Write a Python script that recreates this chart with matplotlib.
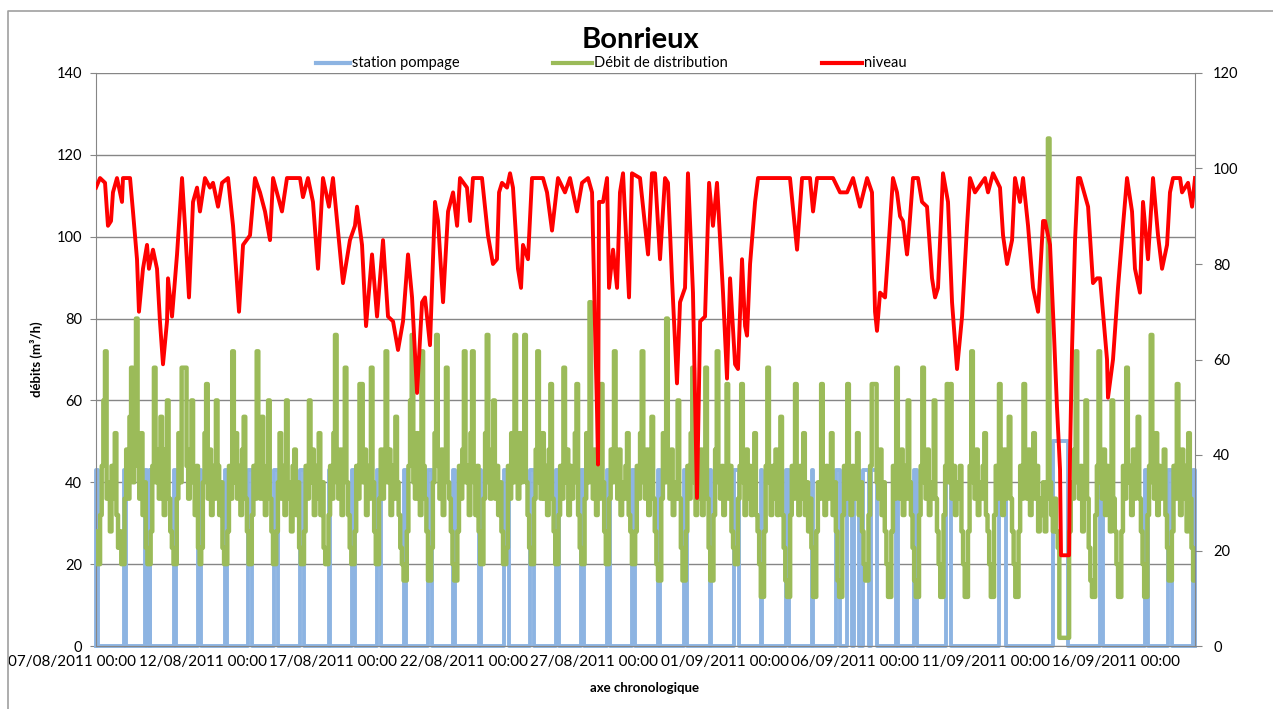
import matplotlib
matplotlib.use("Agg")
import matplotlib.pyplot as plt
import matplotlib.transforms as mtransforms
from matplotlib.lines import Line2D

plt.rcParams['font.family'] = ['Lato', 'DejaVu Sans']

# axe des temps : heures depuis le 07/08/2011 00:00
heures_axe = [0, 120, 240, 360, 480, 600, 720, 840, 960]
dates_axe = ["07/08/2011 00:00", "12/08/2011 00:00", "17/08/2011 00:00",
             "22/08/2011 00:00", "27/08/2011 00:00", "01/09/2011 00:00",
             "06/09/2011 00:00", "11/09/2011 00:00", "16/09/2011 00:00"]
debut_h = 22
fin_h = 1032.5

# niveau (axe droit)
niveau_h = [22, 25.7, 30.3, 33, 35.8, 37.6, 41.3, 45.9, 46.8, 53.3, 56, 59.7, 61.5, 65.2,
            68.9, 70.7, 74.4, 78.1, 80.8, 83.6, 87.3, 88.2, 91.9, 96.5, 101.1, 103.8,
            107.5, 111.2, 114.9, 117.6, 122.2, 126.8, 129.6, 134.2, 137.9, 143.4, 148,
            153.5, 157.2, 163.6, 168.2, 172.8, 177.4, 182, 184.8, 193, 197.6, 209.6,
            212.3, 216.9, 221.5, 226.1, 230.7, 236.2, 239.9, 249.1, 255.5, 260.1, 262,
            266.6, 270.3, 275.8, 280.4, 285.9, 290.5, 295.1, 299.7, 304.3, 308.9, 312.6,
            317.2, 321.8, 324.5, 329.1, 333.7, 336.5, 341.1, 345.7, 350.3, 354, 356.7,
            363.1, 365.9, 368.6, 376.9, 382.4,
            387, 390.7, 392.6, 395.3, 399.9, 402.7, 405.4, 410, 412.8, 414.6, 419.2,
            422.9, 433, 436.7, 441.3, 446.8, 453.2, 457.8, 464.3, 468.9, 474.4, 478.1,
            480.8, 482.7, 483.6, 484.5, 488.2, 491.9, 493.7, 497.4, 501.1, 503.8, 506.6,
            512.1, 514.8, 522.2, 529.6, 533.2, 536, 540.6, 545.2, 547.9, 551.6, 556.2,
            559, 563.6, 566.3, 570.9, 574.6, 577.5, 582, 585.7, 589.3, 593, 598.5, 602.2,
            605, 609.6, 612.3, 616, 618.8, 620.6, 623.4, 628, 630.7, 639, 644.5, 650.9,
            660.1, 666.6, 671.2, 678.5, 681.3, 685, 699.7, 706.1, 712.6, 718.1, 724.5,
            731, 735.5, 738.3, 740.1, 742.9, 747.5, 750.2, 754.8, 758.5, 761.3, 764,
            767.7, 768.6, 773.2, 777.8, 781.5, 786.1, 790.7, 793.5, 796.2, 800.8, 805.4,
            809.1, 813.7, 818.3, 822.9, 825.6, 830.2, 839.4, 842.2, 846.8, 853.2, 856,
            859.7, 864.3, 867, 871.6, 874.4, 879, 883.6, 888.2, 892.8, 894.6, 899.2,
            902.9, 905.6, 908.4, 909.3, 916.7, 917.6, 919.4, 922.2, 924.9, 926.8, 934.2,
            938.7, 942.4, 945.2, 951.6, 952.5, 957.1, 961.7, 966.3, 970, 974.6, 977.3,
            981.9, 984.7, 989.3, 993.9, 998.5, 1002.2, 1006.8, 1009.5, 1012.3, 1018.8,
            1020.6, 1026.1, 1029.8, 1032.5]
niveau = [96, 98, 97, 88, 89, 95, 98, 93, 98, 98, 91, 81, 70, 79,
          84, 79, 83, 79, 68, 59, 68, 77, 69, 82, 98, 88,
          73, 93, 96, 91, 98, 96, 97, 92, 97, 98, 88,
          70, 84, 86, 98, 95, 91, 85, 98, 91, 98, 98,
          94, 98, 93, 79, 98, 92, 98, 76, 85, 88, 92,
          84, 67, 82, 69, 85, 69, 68, 62, 68, 82, 73,
          53, 72, 73, 63, 93, 89, 72, 91, 95, 88, 98,
          96, 89, 98, 98, 86,
          80, 81, 95, 97, 96, 99, 96, 79, 75, 84, 81,
          98, 98, 95, 87, 98, 95, 98, 91, 97, 98, 95,
          67, 49, 38, 93, 93, 98, 75, 83, 75, 95, 99,
          73, 99, 98, 82, 99, 99, 81, 98, 97, 77, 55,
          72, 75, 99, 74, 31, 68, 69, 97, 88, 97, 74, 56,
          77, 59, 58, 81, 67, 65, 80, 93, 98, 98, 98, 98,
          98, 83, 98, 98, 91, 98, 98, 95, 95, 98, 92,
          98, 95, 70, 66, 74, 73, 82, 98, 95, 90,
          89, 82, 84, 98, 98, 93, 92, 77, 73, 75, 99, 93,
          72, 58, 69, 88, 98, 95, 98, 95, 99, 96,
          86, 80, 85, 98, 93, 98, 88, 75, 70, 89, 89, 84,
          65, 50, 37, 19, 19, 40, 62, 85, 98, 98, 92,
          76, 77, 77, 60, 52, 60, 75, 88, 98, 91, 79,
          74, 93, 81, 98, 86, 79, 84, 95, 98, 98,
          95, 97, 92, 98]

# débit de distribution (axe gauche), un relevé toutes les 1,5 h à partir de 22 h
pas_debit = 1.5
debit_distribution = [
    28, 20, 20, 32, 44, 60, 72, 36, 40, 28, 44, 36, 52, 32, 24, 28,
    20, 20, 36, 48, 36, 56, 68, 40, 60, 80, 44, 36, 52, 32, 40, 24,
    20, 20, 28, 44, 68, 40, 48, 36, 56, 44, 32, 48, 60, 36, 28, 24,
    20, 20, 36, 52, 40, 68, 68, 68, 44, 36, 48, 60, 40, 32, 44, 24,
    20, 24, 40, 52, 64, 36, 48, 32, 44, 36, 60, 44, 32, 40, 24, 20,
    20, 28, 44, 36, 72, 40, 52, 36, 44, 32, 48, 56, 36, 28, 20, 20,
    32, 44, 36, 72, 48, 36, 56, 40, 32, 44, 60, 36, 28, 20, 20, 28,
    40, 52, 36, 44, 32, 60, 40, 36, 28, 44, 48, 32, 40, 24, 20, 20,
    28, 44, 36, 60, 40, 48, 32, 44, 36, 52, 32, 40, 24, 20, 20, 32,
    44, 36, 52, 76, 40, 36, 48, 32, 44, 68, 40, 32, 24, 20, 20, 28,
    44, 36, 64, 64, 40, 48, 32, 44, 36, 68, 40, 28, 20, 20, 36, 48,
    36, 44, 72, 40, 48, 32, 44, 36, 56, 40, 32, 24, 20, 16, 16, 28,
    44, 60, 76, 40, 36, 52, 40, 32, 72, 44, 36, 28, 16, 16, 24, 40,
    52, 76, 44, 36, 48, 32, 44, 68, 40, 36, 28, 20, 16, 16, 28, 44,
    36, 48, 72, 40, 44, 32, 52, 72, 40, 32, 44, 28, 20, 20, 36, 52,
    76, 40, 36, 48, 60, 36, 44, 32, 40, 28, 20, 20, 24, 44, 36, 52,
    40, 76, 44, 36, 52, 40, 44, 76, 40, 32, 24, 20, 20, 36, 48, 72,
    40, 36, 52, 36, 44, 32, 48, 64, 36, 28, 20, 20, 32, 44, 36, 68,
    40, 48, 32, 44, 36, 40, 52, 64, 32, 24, 20, 20, 36, 52, 40, 84,
    44, 36, 48, 32, 44, 36, 64, 40, 28, 20, 20, 36, 48, 40, 72, 44,
    36, 48, 32, 40, 36, 44, 52, 32, 28, 20, 20, 28, 44, 36, 52, 72,
    40, 36, 48, 32, 44, 56, 36, 28, 20, 16, 16, 36, 52, 40, 80, 44,
    36, 48, 32, 40, 36, 60, 36, 24, 16, 16, 28, 44, 36, 52, 68, 40,
    32, 44, 36, 48, 32, 40, 68, 36, 24, 16, 16, 32, 48, 72, 40, 36,
    44, 32, 40, 64, 36, 44, 28, 24, 20, 20, 36, 44, 64, 40, 32, 48,
    36, 44, 32, 40, 52, 32, 28, 20, 12, 12, 28, 44, 68, 40, 32, 44,
    36, 48, 32, 40, 56, 32, 24, 16, 12, 12, 32, 44, 36, 64, 40, 32,
    44, 36, 52, 32, 40, 28, 36, 24, 12, 12, 28, 40, 36, 64, 40, 32,
    44, 36, 40, 52, 32, 40, 28, 16, 12, 12, 32, 44, 36, 64, 40, 32,
    44, 36, 40, 52, 32, 40, 28, 20, 16, 16, 32, 44, 64, 64, 64, 40,
    36, 48, 32, 40, 28, 20, 12, 12, 28, 44, 36, 68, 40, 36, 48, 32,
    44, 36, 60, 40, 32, 24, 16, 12, 12, 32, 44, 68, 40, 36, 48, 32,
    40, 36, 60, 36, 28, 20, 12, 12, 32, 44, 64, 40, 64, 36, 44, 32,
    40, 36, 44, 28, 20, 12, 12, 28, 44, 72, 40, 36, 48, 32, 40, 36,
    44, 52, 32, 28, 20, 12, 12, 32, 44, 36, 64, 40, 32, 48, 36, 44,
    56, 36, 28, 20, 12, 12, 28, 44, 36, 64, 40, 36, 48, 32, 40, 52,
    36, 44, 28, 36, 32, 40, 28, 36, 124, 40, 32, 28, 36, 28, 24, 2,
    2, 2, 2, 2, 2, 28, 40, 36, 48, 72, 40, 36, 44, 28, 40, 60,
    36, 24, 16, 12, 12, 32, 44, 72, 40, 36, 48, 32, 44, 36, 28, 60,
    36, 28, 20, 12, 12, 28, 44, 36, 68, 40, 44, 32, 48, 36, 40, 56,
    36, 28, 20, 12, 12, 32, 44, 76, 40, 36, 52, 32, 44, 36, 40, 48,
    32, 24, 16, 16, 28, 44, 36, 64, 40, 32, 48, 36, 44, 28, 52, 36,
    24, 16, 16]

# station de pompage : périodes de marche (heures) et débit
pompe_debut = [22, 47.7, 67.5, 71.5, 93.6, 116.2, 140.2, 162.2, 186.1, 210, 235.8,
               257.8, 280, 304.8, 327.7, 350.7, 374.6, 396.7, 420.6, 444.5, 467.5,
               491.4, 514.4, 539.2, 562.2, 586.1, 609, 633, 656, 679.9, 702.5, 712.6,
               719.4, 727.3, 734.6, 758, 773.7, 804, 852.7, 902, 944.7, 986.1, 1008.1,
               1030.7]
pompe_fin = [23.5, 49.7, 68.5, 72, 95.6, 119, 142, 165, 188.9, 212.8, 237.6,
             260.6, 283.6, 306.6, 330.5, 352.5, 376.4, 401.3, 424.4, 447.3, 471.1,
             494.2, 518, 541, 565, 587.9, 612.8, 634, 659.6, 681.7, 706.1, 717.2,
             724, 732.8, 740.1, 759, 776.5, 808.6, 858.3, 915.8, 948.3, 989.7, 1010.9,
             1032.5]
pompe_debit = [43] * 39 + [50] + [43] * 4

# construction des séries
t_debit = [debut_h + pas_debit * i for i in range(len(debit_distribution))]
t_pompe, q_pompe = [], []
for a, b, q in zip(pompe_debut, pompe_fin, pompe_debit):
    t_pompe += [a, a, b, b]
    q_pompe += [0, q, q, 0]

W, H = 1273, 709
fig = plt.figure(figsize=(W / 100, H / 100), dpi=100)
ax = fig.add_axes([96 / W, 1 - 646 / H, (1195 - 96) / W, (646 - 73) / H])
ax2 = ax.twinx()

gris = '#868686'
bleu = '#8DB4E2'
vert = '#9BBB59'
rouge = '#FF0000'

ax.plot(t_pompe, q_pompe, color=bleu, lw=2.8, clip_on=False, zorder=2)
ax.plot(t_debit, debit_distribution, color=vert, lw=3.2, drawstyle='steps-mid', zorder=3)
ax2.plot(niveau_h, niveau, color=rouge, lw=2.8, zorder=3)

ax.set_xlim(debut_h, fin_h)
ax.set_ylim(0, 140)
ax2.set_ylim(0, 120)
ax.set_yticks(range(0, 141, 20))
ax2.set_yticks(range(0, 121, 20))
ax.set_xticks([])

ax.yaxis.grid(True, color=gris, lw=1.0)
ax.set_axisbelow(True)
for s in ['top', 'right']:
    ax.spines[s].set_visible(False)
for s in ['top', 'left', 'bottom']:
    ax2.spines[s].set_visible(False)
ax.spines['left'].set_color(gris)
ax.spines['bottom'].set_color(gris)
ax2.spines['right'].set_color(gris)
ax.tick_params(axis='y', direction='out', length=4, color=gris, labelsize=10.5, pad=6)
ax2.tick_params(axis='y', direction='out', length=5, color=gris, labelsize=10.5, pad=8)

trans = mtransforms.blended_transform_factory(ax.transData, ax.transAxes)
for h, lab in zip(heures_axe, dates_axe):
    ax.text(h, -0.016, lab, transform=trans, ha='center', va='top',
            fontsize=11, clip_on=False)

ax.set_ylabel("débits (m³/h)", fontsize=9.5, fontweight='bold', labelpad=10)
fig.text(645 / W, 1 - 688 / H, "axe chronologique", ha='center', va='center',
         fontsize=9.5, fontweight='bold')
fig.text(641 / W, 1 - 40 / H, "Bonrieux", ha='center', va='center',
         fontsize=21, fontweight='bold')

# légende
legende = [("station pompage", bleu, 316, 350),
           ("Débit de distribution", vert, 553, 592),
           ("niveau", rouge, 822, 862)]
for lab, c, x1, x2 in legende:
    y = 1 - 63 / H
    fig.add_artist(Line2D([x1 / W, x2 / W], [y, y], color=c, lw=3.0,
                          transform=fig.transFigure))
    fig.text((x2 + 2) / W, y, lab, ha='left', va='center', fontsize=10.5)

# cadre du graphique
fig.add_artist(Line2D([8 / W, 8 / W, 1.0], [0.0, 1 - 11 / H, 1 - 11 / H],
                      color='#A0A0A0', lw=1.2, transform=fig.transFigure))

fig.savefig("out.png", dpi=100)
